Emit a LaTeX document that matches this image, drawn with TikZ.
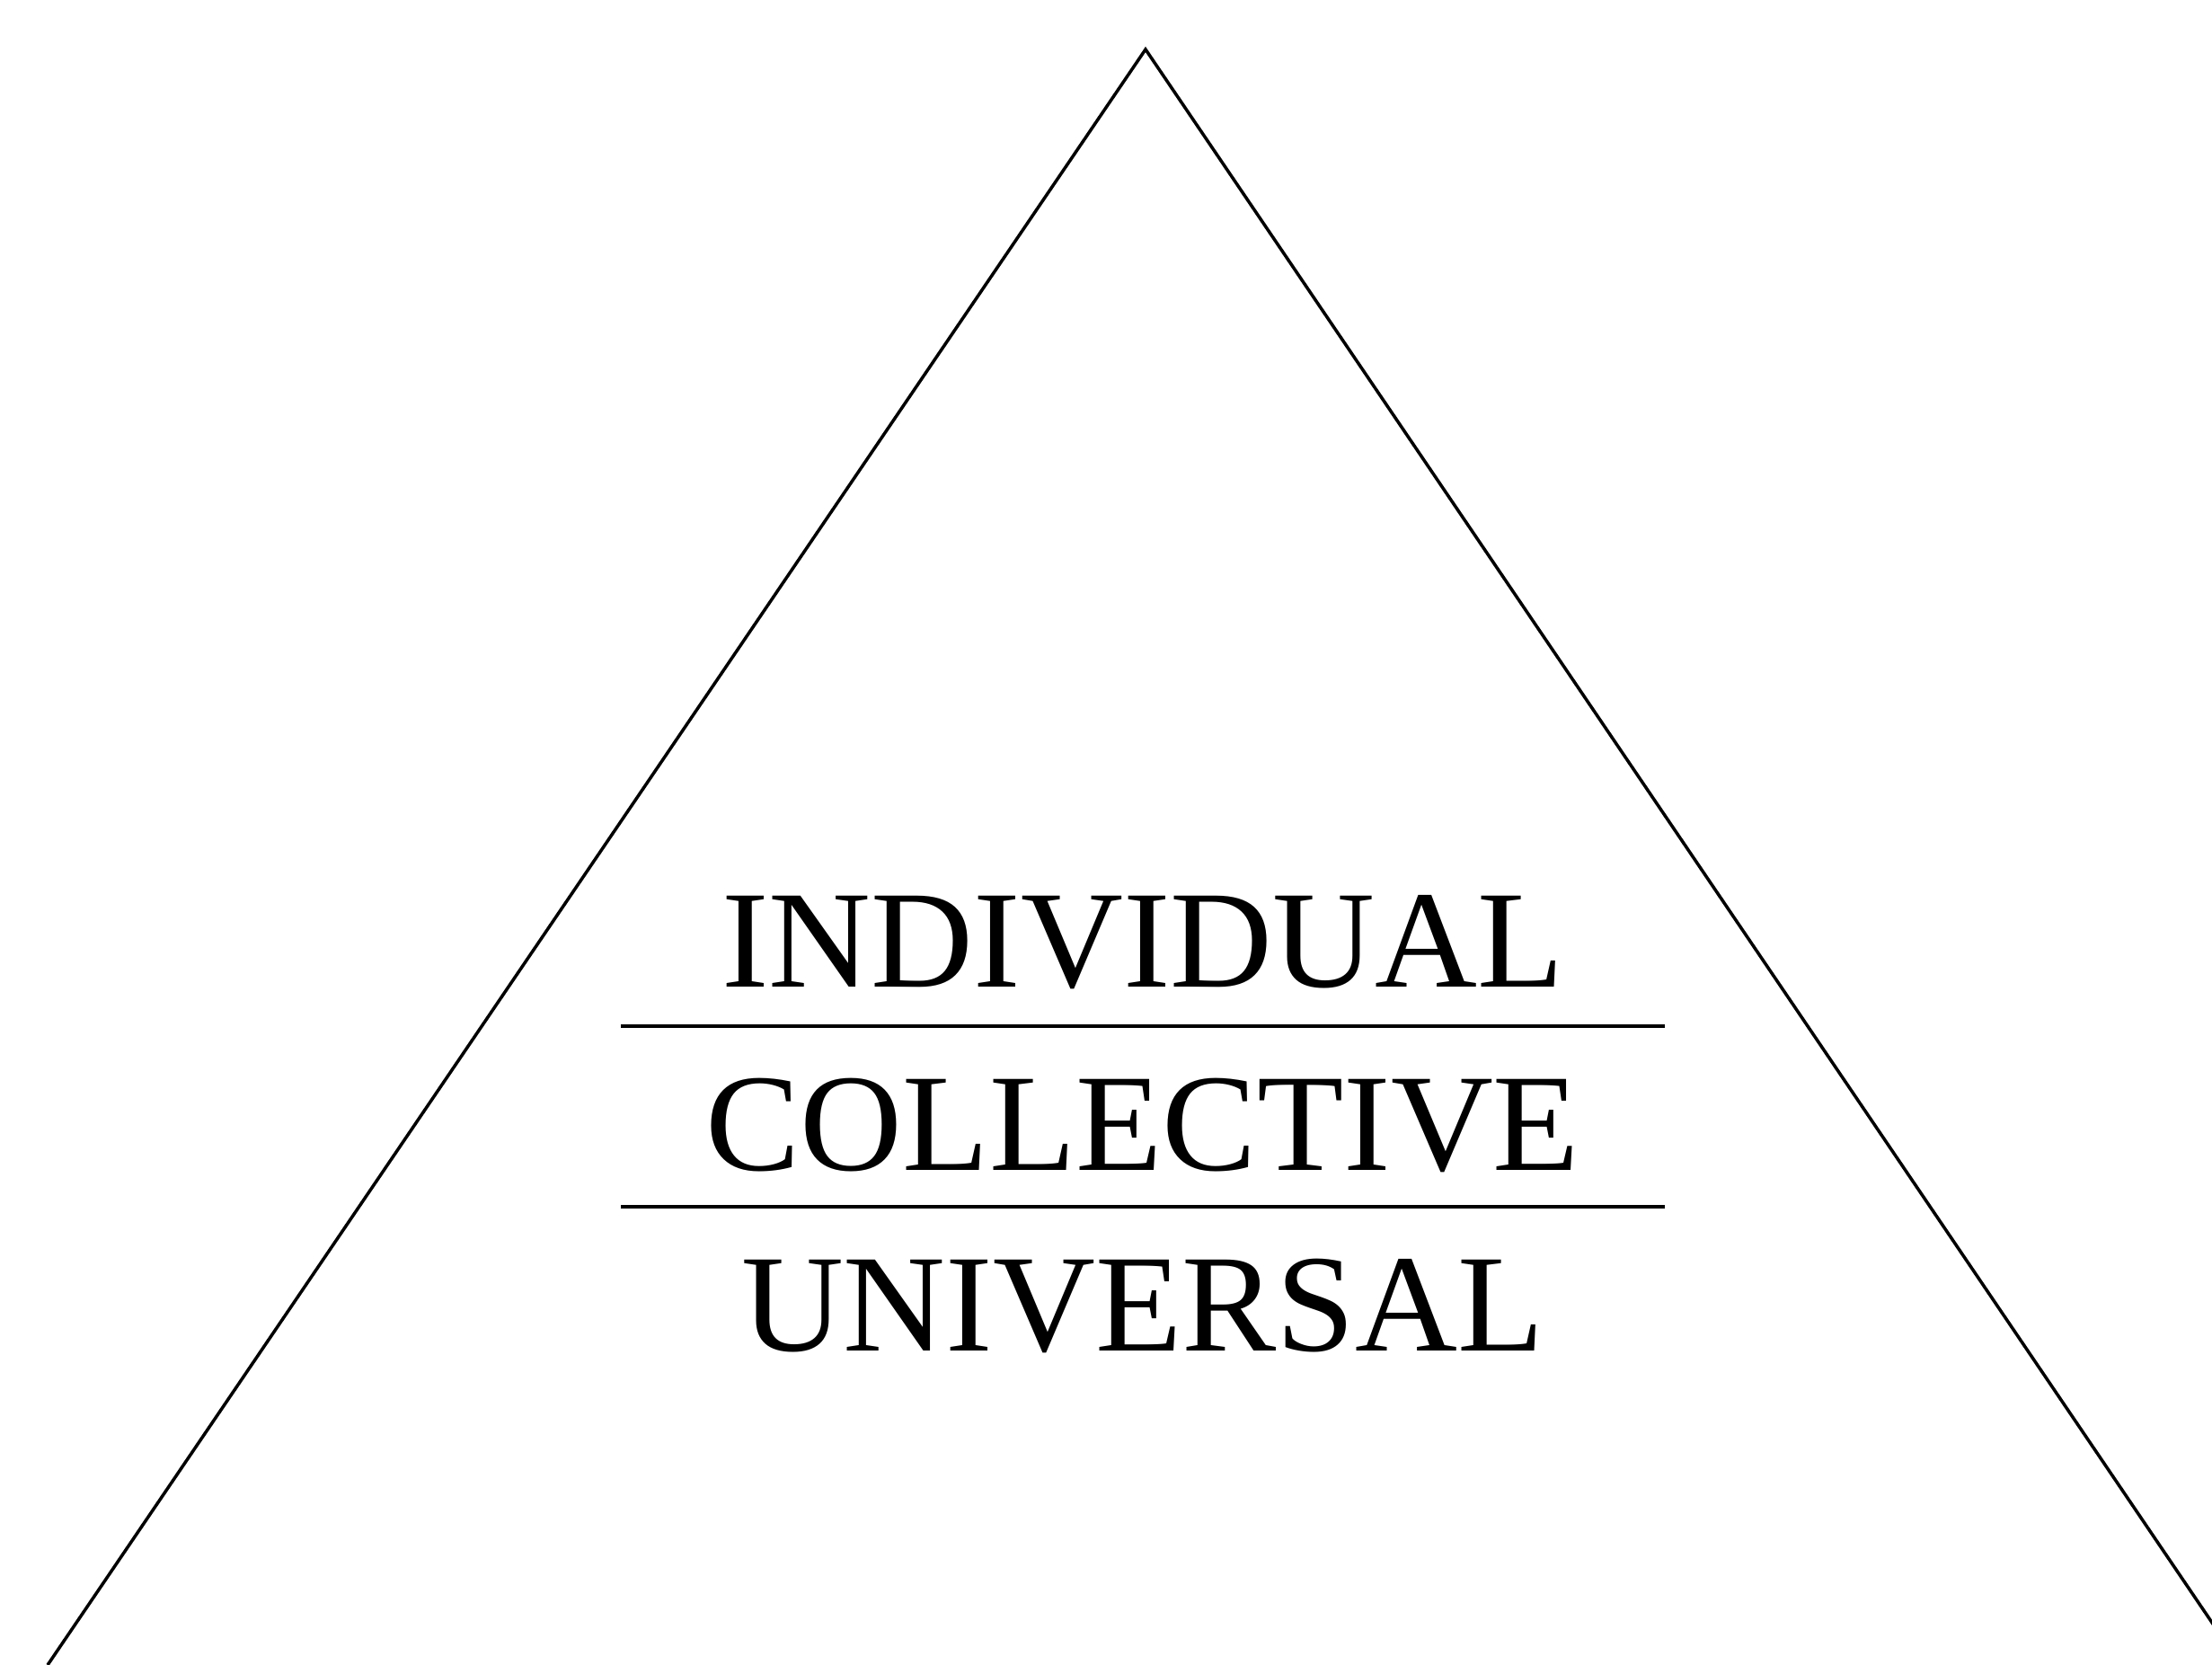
\documentclass[tikz,border=0pt]{standalone}
\usepackage{fontspec}
\setmainfont{Liberation Serif}
\usetikzlibrary{calc}

\begin{document}
\begin{tikzpicture}[
        level/.style={
                font=\fontsize{44}{50}\selectfont,
                anchor=base,
                inner sep=0pt,
                xscale=1.02
            },
        side/.style={draw, line width=1pt},
        divider/.style={draw, line width=1.2pt}
    ]

    % ---- Page size ----
    \useasboundingbox (0,0) rectangle (24.62,18.53);
    \clip (0,0) rectangle (24.62,18.53);

    % ---- Triangle corners ----
    \coordinate (apex) at (12.75,17.98);
    \coordinate (baseL) at (0.53,0);
    \coordinate (baseR) at (24.94,0);

    \draw[side] (baseL) -- (apex) -- (baseR);

    % ---- Levels ----
    \def\midx{12.72}
    \node[level] (indiv) at (\midx,7.54) {INDIVIDUAL};
    \node[level] (coll)  at (\midx,5.50) {COLLECTIVE};
    \node[level] (univ)  at (\midx,3.49) {UNIVERSAL};

    % ---- Dividers ----
    \draw[divider] (6.91,7.11) -- (18.53,7.11);
    \draw[divider] (6.91,5.10) -- (18.53,5.10);
\end{tikzpicture}
\end{document}
